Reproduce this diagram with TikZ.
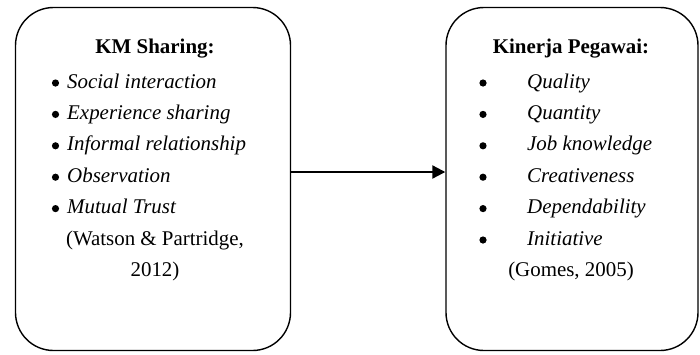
\documentclass[tikz,border=0pt]{standalone}
\usepackage{fontspec}
\setmainfont{Liberation Serif}
\usetikzlibrary{arrows.meta}
\begin{document}
\begin{tikzpicture}[x=1bp,y=-1bp,
  panel/.style={draw, line width=1.4bp, rounded corners=38bp, inner sep=0pt},
  head/.style={font=\fontsize{21}{24}\selectfont\bfseries, anchor=base, inner sep=0pt},
  item/.style={font=\fontsize{21}{24}\selectfont\itshape, anchor=base west, inner sep=0pt},
  dot/.style={circle, fill, inner sep=0pt, minimum size=7.2bp},
  cite/.style={font=\fontsize{21}{24}\selectfont, anchor=base, inner sep=0pt},
  link/.style={line width=2.2bp, -{Triangle[length=13bp,width=13bp]}}]
\useasboundingbox (0,0) rectangle (700,354);

% left panel
\node[panel, minimum width=275bp, minimum height=343bp] (km) at (153,179) {};
\node[head] (kmh) at (155,53) {KM Sharing:};
\foreach \t [count=\k] in {Social interaction, Experience sharing, Informal relationship, Observation, Mutual Trust}{
  \node[item] (kmi\k) at (67,{88+31.4*(\k-1)}) {\t};
  \node[dot] (kmb\k) at ([xshift=-11.5bp,yshift=5bp]kmi\k.base west) {};
}
\node[cite] (kmc1) at (155,{88+31.4*5}) {(Watson \& Partridge,};
\node[cite] (kmc2) at (155,{88+31.4*6}) {2012)};

% right panel
\node[panel, minimum width=252bp, minimum height=343bp] (kp) at (572,179) {};
\node[head] (kph) at (571,53) {Kinerja Pegawai:};
\foreach \t [count=\k] in {Quality, Quantity, Job knowledge, Creativeness, Dependability, Initiative}{
  \node[item] (kpi\k) at (527,{88+31.4*(\k-1)}) {\t};
  \node[dot] (kpb\k) at ([yshift=5bp]483,{88+31.4*(\k-1)}) {};
}
\node[cite] (kpc) at (571,{88+31.4*6}) {(Gomes, 2005)};

% connector
\draw[link] ([yshift=7bp]km.east) -- ([yshift=7bp]kp.west);
\end{tikzpicture}
\end{document}
